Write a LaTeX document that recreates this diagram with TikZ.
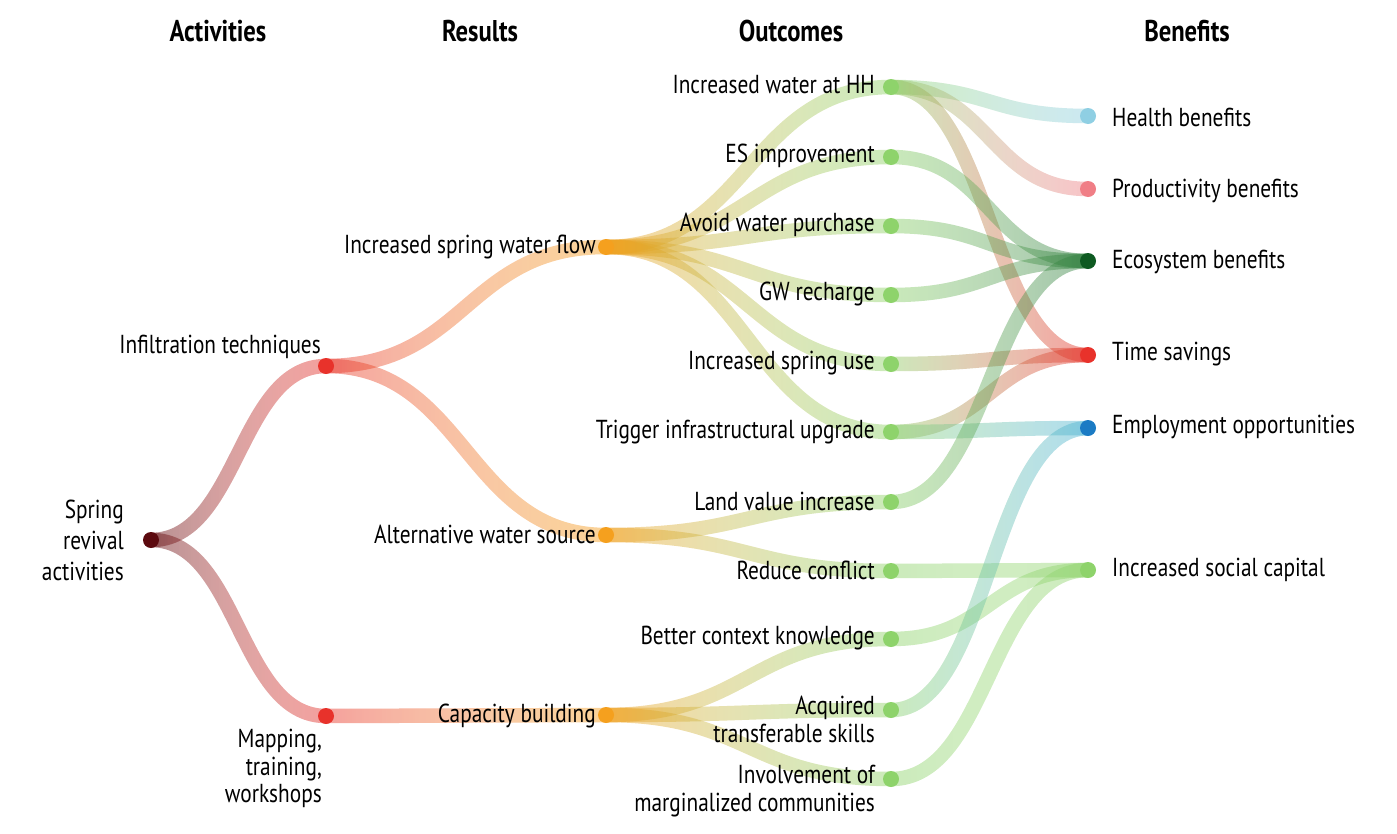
\documentclass[tikz,border=0pt]{standalone}
\usepackage{fontspec}
\setmainfont{PT Sans}[FakeStretch=0.82]
\usetikzlibrary{fadings,calc}
\tikzfading[name=fadein, left color=transparent!100, right color=transparent!0]
\tikzfading[name=fadeout, left color=transparent!0, right color=transparent!100]
\pgfdeclarelayer{links}
\pgfsetlayers{links,main}
\definecolor{cMaroon}{HTML}{5C0A0F}
\definecolor{cRed}{HTML}{E8322B}
\definecolor{cOrange}{HTML}{F5A01E}
\definecolor{cGreen}{HTML}{8ED36B}
\definecolor{cHealth}{HTML}{8FCFE3}
\definecolor{cProd}{HTML}{F07E86}
\definecolor{cEco}{HTML}{0E5A21}
\definecolor{cEcoLink}{HTML}{2E7D3E}
\definecolor{cEmp}{HTML}{1B7BC4}
\definecolor{cEmpLink}{HTML}{4DB3D6}
\tikzset{
  dot/.style={circle, inner sep=0pt, minimum size=16pt},
  lbl/.style={font=\fontsize{26}{27.5}\selectfont, inner sep=0pt, align=right},
  hdr/.style={font=\bfseries\fontsize{30}{32}\selectfont, inner sep=0pt},
  flowa/.style={line width=14.5pt, opacity=0.47, path fading=fadeout},
  flowb/.style={line width=14.5pt, opacity=0.47, path fading=fadein},
}
\newcommand\flowlink[4]{%
  \path (#1.center) -- (#2.center) coordinate[midway] (fm);
  \draw[flowa, draw=#3] (#1.center) .. controls (fm |- #1.center) and (fm |- #2.center) .. (#2.center);
  \draw[flowb, draw=#4] (#1.center) .. controls (fm |- #1.center) and (fm |- #2.center) .. (#2.center);
}
\begin{document}
\begin{tikzpicture}[x=1pt, y=-1pt]
\useasboundingbox (0,0) rectangle (1397,833);
% headers
\node[hdr] (hAct) at (218,31) {Activities};
\node[hdr] (hRes) at (480,31) {Results};
\node[hdr] (hOut) at (791,31) {Outcomes};
\node[hdr] (hBen) at (1187,31) {Benefits};
% dots
\node[dot, fill=cMaroon] (spring) at (151,540) {};
\node[dot, fill=cRed] (infil) at (326,366) {};
\node[dot, fill=cRed] (mapping) at (326,716) {};
\node[dot, fill=cOrange] (flow) at (606,247) {};
\node[dot, fill=cOrange] (alt) at (606,535) {};
\node[dot, fill=cOrange] (cap) at (606,715) {};
\node[dot, fill=cGreen] (hh) at (891,87) {};
\node[dot, fill=cGreen] (es) at (891,157) {};
\node[dot, fill=cGreen] (avoid) at (891,226) {};
\node[dot, fill=cGreen] (gw) at (891,295) {};
\node[dot, fill=cGreen] (use) at (891,364) {};
\node[dot, fill=cGreen] (trig) at (891,432) {};
\node[dot, fill=cGreen] (land) at (891,502) {};
\node[dot, fill=cGreen] (conf) at (891,571) {};
\node[dot, fill=cGreen] (ctx) at (891,639) {};
\node[dot, fill=cGreen] (skills) at (891,710) {};
\node[dot, fill=cGreen] (invol) at (891,779) {};
\node[dot, fill=cHealth] (health) at (1088,116) {};
\node[dot, fill=cProd] (prod) at (1088,189) {};
\node[dot, fill=cEco] (eco) at (1088,261) {};
\node[dot, fill=cRed] (time) at (1088,355) {};
\node[dot, fill=cEmp] (emp) at (1088,428) {};
\node[dot, fill=cGreen] (soc) at (1088,570) {};
% labels
\node[lbl, font=\fontsize{26}{31}\selectfont, anchor=east] (springL) at (124,540) {Spring\\revival\\activities};
\node[lbl, anchor=base east] (infilL) at (321,353) {Infiltration techniques};
\node[lbl, anchor=north east] (mapL) at (322,729) {Mapping,\\training,\\workshops};
\node[lbl, anchor=east] (flowL) at (596,247) {Increased spring water flow};
\node[lbl, anchor=east] (altL) at (596,534) {Alternative water source};
\node[lbl, anchor=east] (capL) at (596,716) {Capacity building};
\node[lbl, anchor=east] (hhL) at (875,85) {Increased water at HH};
\node[lbl, anchor=east] (esL) at (875,156) {ES improvement};
\node[lbl, anchor=east] (avoidL) at (875,225) {Avoid water purchase};
\node[lbl, anchor=east] (gwL) at (875,294) {GW recharge};
\node[lbl, anchor=east] (useL) at (875,363) {Increased spring use};
\node[lbl, anchor=east] (trigL) at (875,432) {Trigger infrastructural upgrade};
\node[lbl, anchor=east] (landL) at (875,501) {Land value increase};
\node[lbl, anchor=east] (confL) at (875,570) {Reduce conflict};
\node[lbl, anchor=east] (ctxL) at (875,638) {Better context knowledge};
\node[lbl, anchor=north east] (skillsL) at (875,696) {Acquired\\transferable skills};
\node[lbl, anchor=north east] (involL) at (875,765) {Involvement of\\marginalized communities};
\node[lbl, anchor=west] (healthL) at (1112,117) {Health benefits};
\node[lbl, anchor=west] (prodL) at (1112,191) {Productivity benefits};
\node[lbl, anchor=west] (ecoL) at (1112,262) {Ecosystem benefits};
\node[lbl, anchor=west] (timeL) at (1112,354) {Time savings};
\node[lbl, anchor=west] (empL) at (1112,427) {Employment opportunities};
\node[lbl, anchor=west] (socL) at (1112,570) {Increased social capital};
% links
\begin{pgfonlayer}{links}
\flowlink{spring}{infil}{cMaroon}{cRed}
\flowlink{spring}{mapping}{cMaroon}{cRed}
\flowlink{infil}{flow}{cRed}{cOrange}
\flowlink{infil}{alt}{cRed}{cOrange}
\flowlink{mapping}{cap}{cRed}{cOrange}
\flowlink{flow}{hh}{cOrange}{cGreen}
\flowlink{flow}{es}{cOrange}{cGreen}
\flowlink{flow}{avoid}{cOrange}{cGreen}
\flowlink{flow}{gw}{cOrange}{cGreen}
\flowlink{flow}{use}{cOrange}{cGreen}
\flowlink{flow}{trig}{cOrange}{cGreen}
\flowlink{alt}{land}{cOrange}{cGreen}
\flowlink{alt}{conf}{cOrange}{cGreen}
\flowlink{cap}{ctx}{cOrange}{cGreen}
\flowlink{cap}{skills}{cOrange}{cGreen}
\flowlink{cap}{invol}{cOrange}{cGreen}
\flowlink{hh}{health}{cGreen}{cHealth}
\flowlink{hh}{prod}{cGreen}{cProd}
\flowlink{hh}{time}{cGreen}{cRed}
\flowlink{es}{eco}{cGreen}{cEcoLink}
\flowlink{avoid}{eco}{cGreen}{cEcoLink}
\flowlink{gw}{eco}{cGreen}{cEcoLink}
\flowlink{use}{time}{cGreen}{cRed}
\flowlink{trig}{time}{cGreen}{cRed}
\flowlink{trig}{emp}{cGreen}{cEmpLink}
\flowlink{land}{eco}{cGreen}{cEcoLink}
\flowlink{conf}{soc}{cGreen}{cGreen}
\flowlink{ctx}{soc}{cGreen}{cGreen}
\flowlink{skills}{emp}{cGreen}{cEmpLink}
\flowlink{invol}{soc}{cGreen}{cGreen}
\end{pgfonlayer}
\end{tikzpicture}
\end{document}
